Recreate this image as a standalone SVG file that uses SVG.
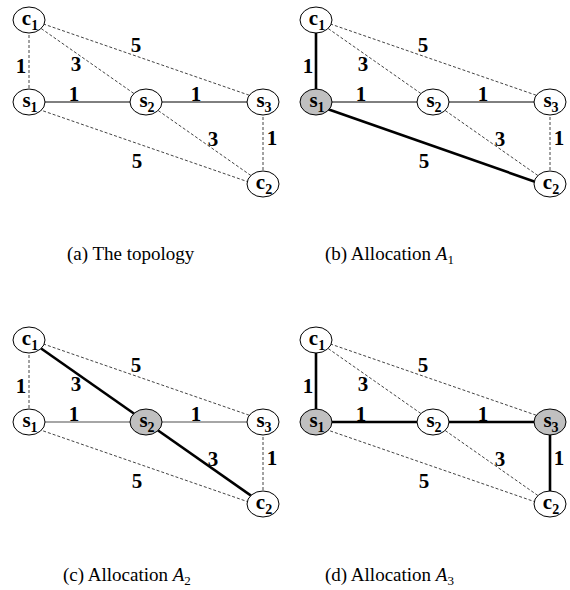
<svg xmlns="http://www.w3.org/2000/svg" width="570" height="590" viewBox="0 0 570 590">
<style>
.n{fill:#fff;stroke:#000;stroke-width:1}
.g{fill:#c0c0c0;stroke:#000;stroke-width:1}
.d{stroke:#444;stroke-width:1;stroke-dasharray:3,2;fill:none}
.s{stroke:#000;stroke-width:1;fill:none}
.t{stroke:#000;stroke-width:2.6;fill:none}
.gr{stroke:#888;stroke-width:1.6;fill:none}
.nl{font-family:"Liberation Serif",serif;font-weight:bold;font-size:21px;text-anchor:middle}
.sub{font-size:14px}
.el{font-family:"Liberation Serif",serif;font-weight:bold;font-size:21px;text-anchor:middle}
.cap{font-family:"Liberation Serif",serif;font-size:19px}
.m{font-style:italic}
</style>
<rect width="570" height="590" fill="#fff"/>

<!-- Panel a -->
<g id="panel-a">
<g id="connectors-a">
<line class="d" x1="29" y1="20" x2="29" y2="102"/>
<line class="d" x1="29" y1="20" x2="146" y2="102"/>
<line class="d" x1="29" y1="19" x2="263" y2="100"/>
<line class="s" x1="29" y1="102" x2="146" y2="102"/>
<line class="s" x1="146" y1="102" x2="263" y2="102"/>
<line class="d" x1="29" y1="106" x2="263" y2="187"/>
<line class="d" x1="146" y1="102" x2="263" y2="184"/>
<line class="d" x1="263" y1="102" x2="263" y2="184"/>
</g>
<g class="el">
<text x="21" y="73">1</text>
<text x="76" y="71">3</text>
<text x="136" y="52">5</text>
<text x="74" y="101">1</text>
<text x="196" y="101">1</text>
<text x="213" y="146">3</text>
<text x="272" y="145">1</text>
<text x="137" y="168">5</text>
</g>
<g id="a-c1"><ellipse class="n" cx="29" cy="20" rx="16" ry="13"/><text class="nl" x="30" y="25">c<tspan class="sub" dy="5">1</tspan></text></g>
<g id="a-s1"><ellipse class="n" cx="29" cy="102" rx="16" ry="13"/><text class="nl" x="30" y="107">s<tspan class="sub" dy="5">1</tspan></text></g>
<g id="a-s2"><ellipse class="n" cx="146" cy="102" rx="16" ry="13"/><text class="nl" x="147" y="107">s<tspan class="sub" dy="5">2</tspan></text></g>
<g id="a-s3"><ellipse class="n" cx="263" cy="102" rx="16" ry="13"/><text class="nl" x="264" y="107">s<tspan class="sub" dy="5">3</tspan></text></g>
<g id="a-c2"><ellipse class="n" cx="263" cy="184" rx="16" ry="13"/><text class="nl" x="264" y="189">c<tspan class="sub" dy="5">2</tspan></text></g>
<text class="cap" x="67" y="260">(a) The topology</text>
</g>

<!-- Panel b -->
<g id="panel-b" transform="translate(287,0)">
<g id="connectors-b">
<line class="t" x1="29" y1="20" x2="29" y2="102"/>
<line class="d" x1="29" y1="20" x2="146" y2="102"/>
<line class="d" x1="29" y1="19" x2="263" y2="100"/>
<line class="s" x1="29" y1="102" x2="146" y2="102"/>
<line class="s" x1="146" y1="102" x2="263" y2="102"/>
<line class="t" x1="29" y1="105" x2="263" y2="187"/>
<line class="d" x1="146" y1="102" x2="263" y2="184"/>
<line class="d" x1="263" y1="102" x2="263" y2="184"/>
</g>
<g class="el">
<text x="21" y="73">1</text>
<text x="76" y="71">3</text>
<text x="136" y="52">5</text>
<text x="74" y="101">1</text>
<text x="196" y="101">1</text>
<text x="213" y="146">3</text>
<text x="272" y="145">1</text>
<text x="137" y="168">5</text>
</g>
<g id="b-c1"><ellipse class="n" cx="29" cy="20" rx="16" ry="13"/><text class="nl" x="30" y="25">c<tspan class="sub" dy="5">1</tspan></text></g>
<g id="b-s1"><ellipse class="g" cx="29" cy="102" rx="16" ry="13"/><text class="nl" x="30" y="107">s<tspan class="sub" dy="5">1</tspan></text></g>
<g id="b-s2"><ellipse class="n" cx="146" cy="102" rx="16" ry="13"/><text class="nl" x="147" y="107">s<tspan class="sub" dy="5">2</tspan></text></g>
<g id="b-s3"><ellipse class="n" cx="263" cy="102" rx="16" ry="13"/><text class="nl" x="264" y="107">s<tspan class="sub" dy="5">3</tspan></text></g>
<g id="b-c2"><ellipse class="n" cx="263" cy="184" rx="16" ry="13"/><text class="nl" x="264" y="189">c<tspan class="sub" dy="5">2</tspan></text></g>
<text class="cap" x="38" y="260">(b) Allocation <tspan class="m">A</tspan><tspan font-size="13" dy="4">1</tspan></text>
</g>

<!-- Panel c -->
<g id="panel-c" transform="translate(0,320)">
<g id="connectors-c">
<line class="d" x1="29" y1="20" x2="29" y2="102"/>
<line class="t" x1="29" y1="20" x2="146" y2="102"/>
<line class="d" x1="29" y1="19" x2="263" y2="100"/>
<line class="gr" x1="29" y1="102" x2="146" y2="102"/>
<line class="gr" x1="146" y1="102" x2="263" y2="102"/>
<line class="d" x1="29" y1="106" x2="263" y2="187"/>
<line class="t" x1="146" y1="102" x2="263" y2="184"/>
<line class="d" x1="263" y1="102" x2="263" y2="184"/>
</g>
<g class="el">
<text x="21" y="73">1</text>
<text x="76" y="71">3</text>
<text x="136" y="52">5</text>
<text x="74" y="101">1</text>
<text x="196" y="101">1</text>
<text x="213" y="146">3</text>
<text x="272" y="145">1</text>
<text x="137" y="168">5</text>
</g>
<g id="c-c1"><ellipse class="n" cx="29" cy="20" rx="16" ry="13"/><text class="nl" x="30" y="25">c<tspan class="sub" dy="5">1</tspan></text></g>
<g id="c-s1"><ellipse class="n" cx="29" cy="102" rx="16" ry="13"/><text class="nl" x="30" y="107">s<tspan class="sub" dy="5">1</tspan></text></g>
<g id="c-s2"><ellipse class="g" cx="146" cy="102" rx="16" ry="13"/><text class="nl" x="147" y="107">s<tspan class="sub" dy="5">2</tspan></text></g>
<g id="c-s3"><ellipse class="n" cx="263" cy="102" rx="16" ry="13"/><text class="nl" x="264" y="107">s<tspan class="sub" dy="5">3</tspan></text></g>
<g id="c-c2"><ellipse class="n" cx="263" cy="184" rx="16" ry="13"/><text class="nl" x="264" y="189">c<tspan class="sub" dy="5">2</tspan></text></g>
<text class="cap" x="63" y="261">(c) Allocation <tspan class="m">A</tspan><tspan font-size="13" dy="4">2</tspan></text>
</g>

<!-- Panel d -->
<g id="panel-d" transform="translate(287,320)">
<g id="connectors-d">
<line class="t" x1="29" y1="20" x2="29" y2="102"/>
<line class="d" x1="29" y1="20" x2="146" y2="102"/>
<line class="d" x1="29" y1="19" x2="263" y2="100"/>
<line class="t" x1="29" y1="102" x2="146" y2="102"/>
<line class="t" x1="146" y1="102" x2="263" y2="102"/>
<line class="d" x1="29" y1="106" x2="263" y2="187"/>
<line class="d" x1="146" y1="102" x2="263" y2="184"/>
<line class="t" x1="263" y1="102" x2="263" y2="184"/>
</g>
<g class="el">
<text x="21" y="73">1</text>
<text x="76" y="71">3</text>
<text x="136" y="52">5</text>
<text x="74" y="101">1</text>
<text x="196" y="101">1</text>
<text x="213" y="146">3</text>
<text x="272" y="145">1</text>
<text x="137" y="168">5</text>
</g>
<g id="d-c1"><ellipse class="n" cx="29" cy="20" rx="16" ry="13"/><text class="nl" x="30" y="25">c<tspan class="sub" dy="5">1</tspan></text></g>
<g id="d-s1"><ellipse class="g" cx="29" cy="102" rx="16" ry="13"/><text class="nl" x="30" y="107">s<tspan class="sub" dy="5">1</tspan></text></g>
<g id="d-s2"><ellipse class="n" cx="146" cy="102" rx="16" ry="13"/><text class="nl" x="147" y="107">s<tspan class="sub" dy="5">2</tspan></text></g>
<g id="d-s3"><ellipse class="g" cx="263" cy="102" rx="16" ry="13"/><text class="nl" x="264" y="107">s<tspan class="sub" dy="5">3</tspan></text></g>
<g id="d-c2"><ellipse class="n" cx="263" cy="184" rx="16" ry="13"/><text class="nl" x="264" y="189">c<tspan class="sub" dy="5">2</tspan></text></g>
<text class="cap" x="38" y="261">(d) Allocation <tspan class="m">A</tspan><tspan font-size="13" dy="4">3</tspan></text>
</g>
</svg>
